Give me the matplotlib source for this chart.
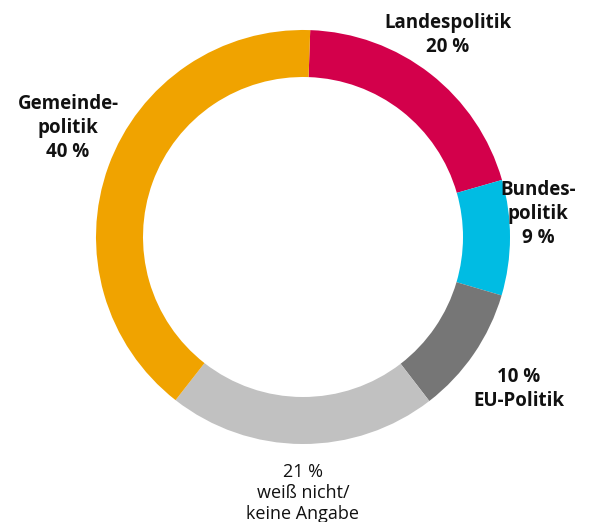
import matplotlib
matplotlib.use('Agg')
import matplotlib.pyplot as plt

# ── Daten ────────────────────────────────────────────────────────────────────
labels = ["Landespolitik\n20 %", "Bundes-\npolitik\n9 %", "10 %\nEU-Politik",
          "21 %\nweiß nicht/\nkeine Angabe", "Gemeinde-\npolitik\n40 %"]
values = [20, 9, 10, 21, 40]
colors = ["#D3004B", "#00BCE3", "#767676", "#C1C1C1", "#F0A300"]

fig = plt.figure(figsize=(5.92, 5.22), dpi=100)
ax = fig.add_axes([0, 0, 1, 1])

# pie in Pixelkoordinaten (y nach unten → counterclock=True läuft im Bild im Uhrzeigersinn)
ax.pie(values, colors=colors, center=(303, 237), radius=207,
       startangle=-88, counterclock=True,
       wedgeprops=dict(width=47, edgecolor='none'), frame=True)
ax.set_xlim(0, 592)
ax.set_ylim(522, 0)
ax.set_aspect('equal')
ax.set_axis_off()

bold = dict(fontsize=13.5, fontweight='bold', color='#111111',
            family=['Open Sans', 'DejaVu Sans'], ha='center', va='center',
            linespacing=1.27)
ax.text(448, 35, labels[0], **bold)
ax.text(538, 214, labels[1], **bold)
ax.text(519, 389, labels[2], **bold)
ax.text(68, 128, labels[4], **bold)
ax.text(303, 493, labels[3], fontsize=13, fontweight='normal', color='#111111',
        family=['Open Sans', 'DejaVu Sans'], ha='center', va='center',
        linespacing=1.2)

fig.savefig("out.png", dpi=100)
